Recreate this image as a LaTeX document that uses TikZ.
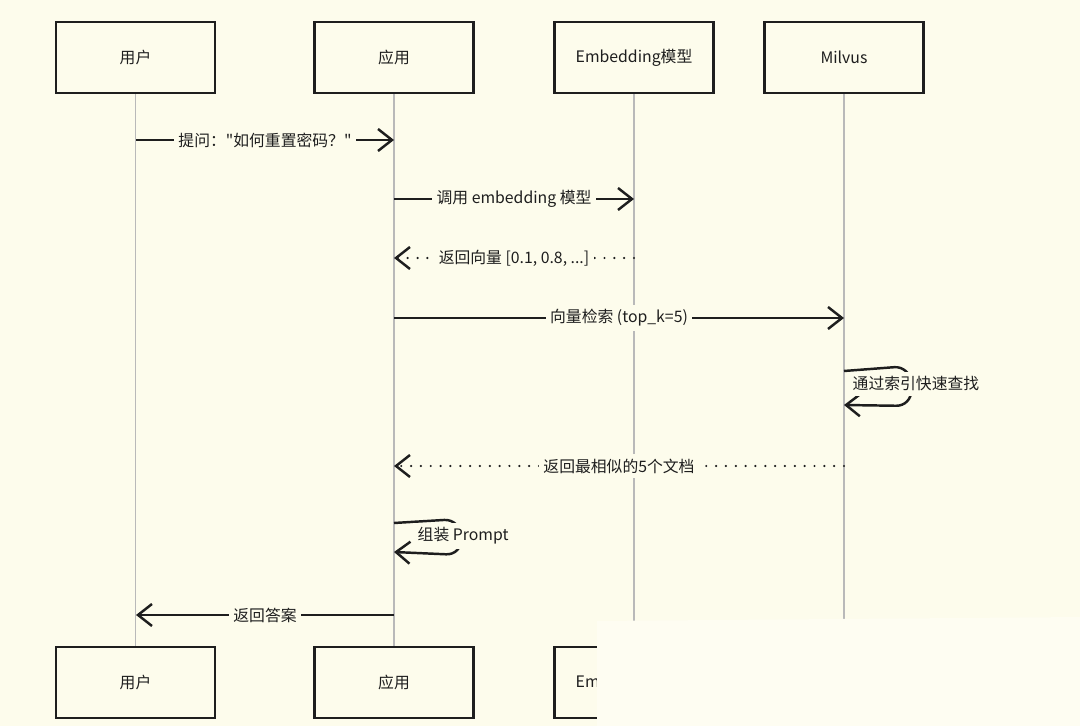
\documentclass[tikz,border=0pt]{standalone}
\usepackage{fontspec}
\setmainfont{Noto Sans CJK SC}
\newfontfamily\cjk{Noto Sans CJK SC}
\usetikzlibrary{arrows.meta, positioning, calc}
\definecolor{paper}{RGB}{253,252,236}
\definecolor{ink}{RGB}{30,30,30}
\definecolor{haze}{RGB}{254,253,242}

\begin{document}
\begin{tikzpicture}[x=0.02cm, y=-0.02cm,
  actor/.style={rectangle, draw=ink, line width=1.3pt, fill=paper,
                minimum width=3.18cm, minimum height=1.42cm,
                font=\cjk\fontsize{9}{11}\selectfont, text=ink},
  lifeline/.style={draw=gray!55, line width=0.6pt},
  msg/.style={draw=ink, line width=1.4pt, -{Straight Barb[length=2.8mm, width=4.4mm, line width=1.4pt]}},
  reply/.style={msg, line cap=round, dash pattern=on 0pt off 5.6pt},
  lbl/.style={fill=paper, inner sep=2.5pt, font=\cjk\fontsize{9}{11}\selectfont, text=ink}
]
  \useasboundingbox[fill=paper] (0,0) rectangle (1080,726);

  % participants
  \node[actor] (u1) at (135.5,57.5) {用户};
  \node[actor] (a1) at (394,57.5) {应用};
  \node[actor] (e1) at (634,57.5) {Embedding模型};
  \node[actor] (m1) at (844,57.5) {Milvus};
  \node[actor] (u2) at (135.5,682.5) {用户};
  \node[actor] (a2) at (394,682.5) {应用};
  \node[actor] (e2) at (634,682.5) {Embedding模型};
  \node[actor] (m2) at (844,682.5) {Milvus};

  \draw[lifeline] (u1) -- (u2);
  \draw[lifeline] (a1) -- (a2);
  \draw[lifeline] (e1) -- (e2);
  \draw[lifeline] (m1) -- (m2);

  % message points on the lifelines
  \coordinate (q1u) at (136,140);  \coordinate (q1a) at (394,140);
  \coordinate (q2a) at (394,199);  \coordinate (q2e) at (634,199);
  \coordinate (q3e) at (634,258);  \coordinate (q3a) at (394,258);
  \coordinate (q4a) at (394,318);  \coordinate (q4m) at (844,318);
  \coordinate (q5s) at (844,371);  \coordinate (q5e) at (844,405);
  \coordinate (q6m) at (844,466);  \coordinate (q6a) at (394,466);
  \coordinate (q7s) at (394,523);  \coordinate (q7e) at (394,552);
  \coordinate (q8a) at (394,615);  \coordinate (q8u) at (136,615);

  \draw[msg] (q1u) -- node[lbl]{提问："如何重置密码？"} (q1a);
  \draw[msg] (q2a) -- node[lbl]{调用 embedding 模型} (q2e);
  \draw[reply] (q3e) -- node[lbl]{返回向量 [0.1, 0.8, ...]} (q3a);
  \draw[msg] (q4a) -- node[lbl]{向量检索 (top\_k=5)} (q4m);
  \draw[msg, rounded corners=9] (q5s) -- (910,366) -- (912,406) -- (q5e);
  \node[lbl, anchor=west] (l5) at (848,384) {通过索引快速查找};
  \draw[reply] (q6m) -- node[lbl]{返回最相似的5个文档} (q6a);
  \draw[msg, rounded corners=9] (q7s) -- (460,519) -- (462,555) -- (q7e);
  \node[lbl, anchor=west] (l7) at (413,536) {组装 Prompt};
  \draw[msg] (q8a) -- node[lbl]{返回答案} (q8u);

  % faded corner of the source image
  \fill[haze] (597,621) -- (1081,617) -- (1081,727) -- (597,727) -- cycle;
\end{tikzpicture}
\end{document}
